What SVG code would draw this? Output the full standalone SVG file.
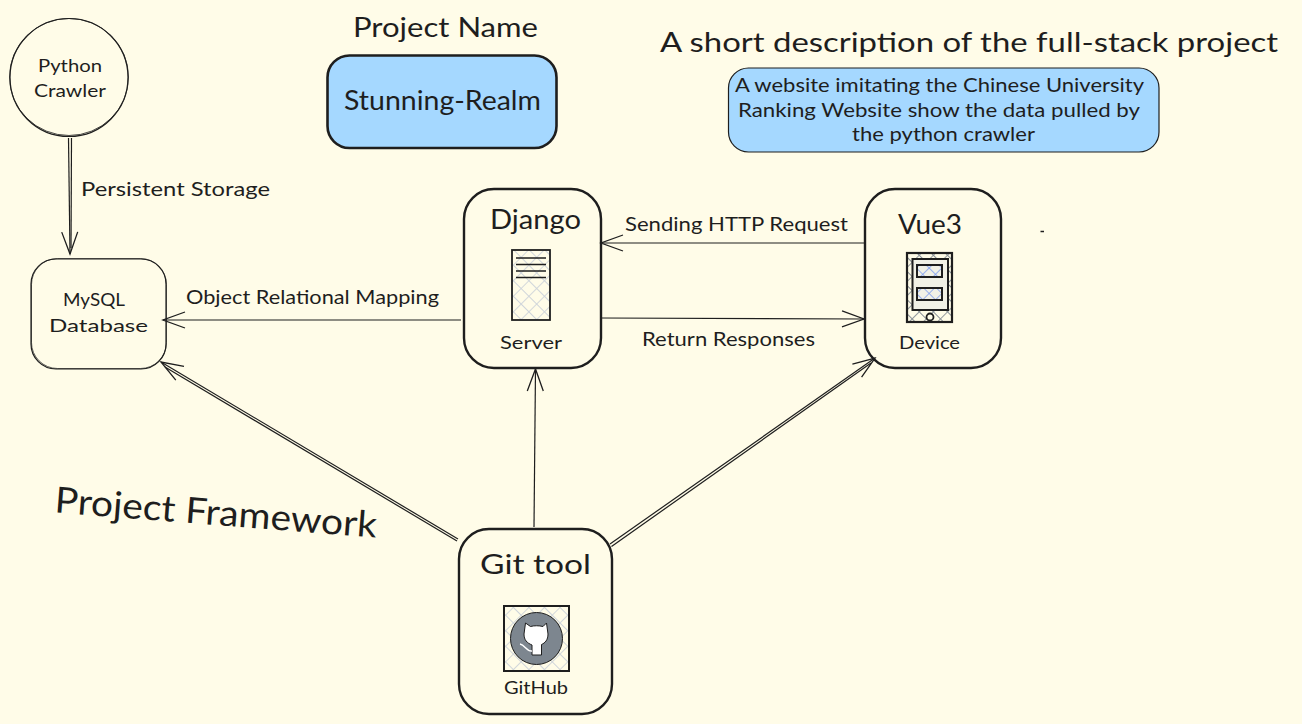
<svg xmlns="http://www.w3.org/2000/svg" width="1302" height="724" viewBox="0 0 1302 724">
<style>
text{font-family:"Lato","Open Sans","Liberation Sans",sans-serif;fill:#1e1e1e;text-anchor:middle}
.xl{font-size:26px}.m{font-size:19px}.s{font-size:18px}
.box{fill:none;stroke:#1e1e1e}
.thin{stroke-width:1.2}.bold{stroke-width:2.4}
.ln{fill:none;stroke:#1e1e1e;stroke-width:1.2}
.arrow{marker-end:url(#head)}
</style>
<defs>
<marker id="head" markerUnits="userSpaceOnUse" markerWidth="30" markerHeight="30" refX="25" refY="15" orient="auto">
<path d="M3 7L25 15L3 23" fill="none" stroke="#1e1e1e" stroke-width="1.300"/>
</marker>
<pattern id="hatchA" width="11" height="11" patternUnits="userSpaceOnUse" patternTransform="rotate(45)">
<path d="M0 0H11M0 0V11" stroke="#ced4da" stroke-width="1.800" fill="none"/>
</pattern>
<pattern id="hatchB" width="10" height="10" patternUnits="userSpaceOnUse" patternTransform="rotate(45)">
<path d="M0 0H10M0 0V10" stroke="#868e96" stroke-width="1.800" fill="none"/>
</pattern>
<pattern id="hatchC" width="9" height="9" patternUnits="userSpaceOnUse" patternTransform="rotate(45)">
<path d="M0 0H9M0 0V9" stroke="#7c9cf0" stroke-width="1.500" fill="none"/>
</pattern>
</defs>
<rect width="1302" height="724" fill="#fffce8"/>
<g id="connectors">
<path class="ln" d="M71.500 138L71 248"/>
<path class="ln arrow" d="M68.500 138L70 254"/>
<path class="ln arrow" d="M461 320L163 320"/>
<path class="ln arrow" d="M864 243L601 243"/>
<path class="ln arrow" d="M601 318L864 319"/>
<path class="ln arrow" d="M458 539L161 362"/>
<path class="ln" d="M457 541L165 367"/>
<path class="ln arrow" d="M534 527L535.500 369"/>
<path class="ln arrow" d="M610 544L875 358"/>
<path class="ln" d="M611.500 546.500L871 363"/>
<path d="M1040.500 231.500H1044" stroke="#1e1e1e" stroke-width="1.500"/>
</g>
<g id="connector-labels">
<text class="m" x="175.500" y="196" textLength="189" lengthAdjust="spacingAndGlyphs">Persistent Storage</text>
<text class="m" x="312.500" y="304" textLength="253" lengthAdjust="spacingAndGlyphs">Object Relational Mapping</text>
<text class="m" x="736.500" y="231" textLength="223" lengthAdjust="spacingAndGlyphs">Sending HTTP Request</text>
<text class="m" x="728.500" y="346" textLength="173" lengthAdjust="spacingAndGlyphs">Return Responses</text>
</g>
<g id="title-project-name"><text class="xl" x="445.500" y="37" textLength="185" lengthAdjust="spacingAndGlyphs">Project Name</text></g>
<g id="title-description"><text class="xl" x="969" y="52" textLength="618" lengthAdjust="spacingAndGlyphs">A short description of the full-stack project</text></g>
<g id="title-framework"><text x="215" y="525" font-size="36" transform="rotate(4.500 215 525)" textLength="323" lengthAdjust="spacingAndGlyphs">Project Framework</text></g>
<g id="node-name">
<rect x="327.500" y="55.500" width="229" height="92.500" rx="22" fill="#a5d8ff" stroke="#1e1e1e" stroke-width="2.600"/>
<text class="xl" x="442.500" y="110" textLength="197" lengthAdjust="spacingAndGlyphs">Stunning-Realm</text>
</g>
<g id="node-description">
<rect x="728.500" y="68" width="430.500" height="84" rx="20" fill="#a5d8ff" stroke="#1e1e1e" stroke-width="1.200"/>
<text class="m" x="939.500" y="92" textLength="409" lengthAdjust="spacingAndGlyphs">A website imitating the Chinese University</text>
<text class="m" x="939" y="117" textLength="402" lengthAdjust="spacingAndGlyphs">Ranking Website show the data pulled by</text>
<text class="m" x="943.500" y="141" textLength="183" lengthAdjust="spacingAndGlyphs">the python crawler</text>
</g>
<g id="node-crawler">
<circle class="box thin" cx="69" cy="77.500" r="59"/>
<ellipse class="box" stroke-width=".8" cx="69" cy="77" rx="59.500" ry="58.500"/>
<text class="s" x="70" y="72" textLength="64" lengthAdjust="spacingAndGlyphs">Python</text>
<text class="s" x="70" y="97" textLength="72" lengthAdjust="spacingAndGlyphs">Crawler</text>
</g>
<g id="node-mysql">
<rect class="box thin" x="31" y="259" width="135" height="110" rx="25"/>
<rect class="box" stroke-width=".7" x="31.500" y="258.500" width="135" height="110" rx="26"/>
<text class="s" x="94" y="306" textLength="62" lengthAdjust="spacingAndGlyphs">MySQL</text>
<text class="s" x="98.500" y="332" textLength="99" lengthAdjust="spacingAndGlyphs">Database</text>
</g>
<g id="node-django">
<rect class="box bold" x="464" y="189" width="137" height="179" rx="30"/>
<text class="xl" x="535.500" y="229" textLength="91" lengthAdjust="spacingAndGlyphs">Django</text>
<rect x="512" y="250" width="38" height="70" fill="url(#hatchA)" stroke="#1e1e1e" stroke-width="1.800"/>
<path d="M516 258H546M516 264.500H546M516 271H546M516 277.500H546" stroke="#1e1e1e" stroke-width="1.500"/>
<text class="s" x="531" y="349" textLength="62" lengthAdjust="spacingAndGlyphs">Server</text>
</g>
<g id="node-vue">
<rect class="box bold" x="865" y="189" width="136" height="179" rx="30"/>
<text class="xl" x="930" y="234" textLength="64" lengthAdjust="spacingAndGlyphs">Vue3</text>
<rect x="907" y="253" width="45" height="69" fill="url(#hatchB)" stroke="#1e1e1e" stroke-width="2.200"/>
<rect x="912.500" y="259" width="35.500" height="51" fill="#f1f1e6" stroke="#1e1e1e" stroke-width="2"/>
<rect x="917" y="265" width="25" height="12" fill="url(#hatchC)" stroke="#1e1e1e" stroke-width="2"/>
<rect x="917" y="288" width="25" height="12" fill="url(#hatchC)" stroke="#1e1e1e" stroke-width="2"/>
<circle cx="930" cy="317" r="3.500" fill="#fffce8" stroke="#1e1e1e" stroke-width="1.800"/>
<text class="s" x="929.500" y="349" textLength="61" lengthAdjust="spacingAndGlyphs">Device</text>
</g>
<g id="node-git">
<rect class="box bold" x="459" y="529" width="153" height="185" rx="30"/>
<text class="xl" x="535.500" y="574" textLength="111" lengthAdjust="spacingAndGlyphs">Git tool</text>
<rect x="504" y="606" width="65" height="65" fill="url(#hatchA)" stroke="#1e1e1e" stroke-width="2"/>
<circle cx="536.500" cy="638.500" r="26" fill="#7d868f" stroke="#1e1e1e" stroke-width="1"/>
<path d="M525.500 623L530.500 626.500C534 625.500 539 625.500 543 626.500L546.500 623L548 634C548 640 545 643 541.500 644.500V655H532V645C527 643 524 640 524 634Z" fill="#fff" stroke="#1e1e1e" stroke-width="1"/>
<path d="M532 651C527 652 525 645 520 644" fill="none" stroke="#fff" stroke-width="1.500"/>
<text class="s" x="536" y="694" textLength="64" lengthAdjust="spacingAndGlyphs">GitHub</text>
</g>
</svg>
